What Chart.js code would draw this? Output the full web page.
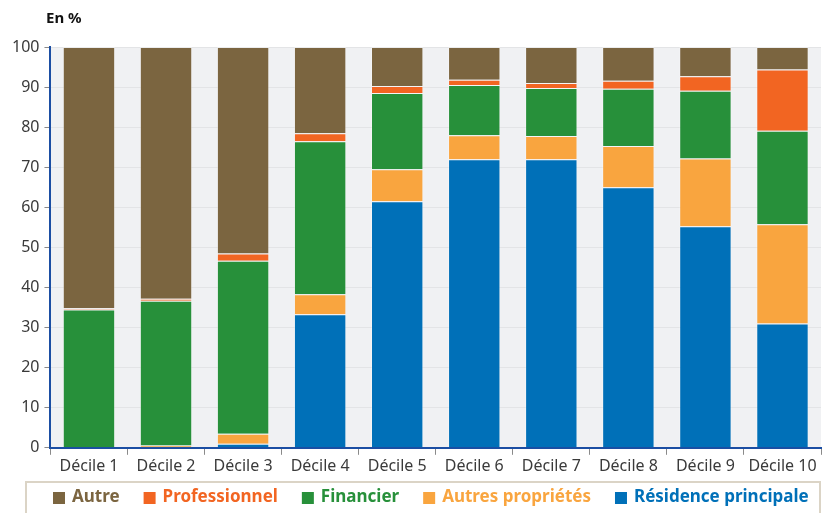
<!DOCTYPE html>
<html>
<head>
<meta charset="utf-8">
<script src="https://cdn.jsdelivr.net/npm/chart.js@4/dist/chart.umd.min.js"></script>
<style>
  html, body { margin: 0; padding: 0; background: #fff; }
  #wrap { width: 826px; height: 513px; }
</style>
</head>
<body>
<div id="wrap"><canvas id="chart"></canvas></div>
<script>
// Data (en %)
const categories = ['Décile 1', 'Décile 2', 'Décile 3', 'Décile 4', 'Décile 5',
    'Décile 6', 'Décile 7', 'Décile 8', 'Décile 9', 'Décile 10'];
const residence = [0, 0, 1, 33.3, 61.5, 72, 72, 65, 55.3, 31];
const autresProprietes = [0, 0.6, 2.5, 5, 8, 6, 5.8, 10.3, 16.9, 24.8];
const financier = [34.5, 36.1, 43.2, 38.2, 19, 12.5, 12, 14.3, 16.9, 23.3];
const professionnel = [0.3, 0.5, 1.8, 2, 1.8, 1.3, 1.2, 2, 3.6, 15.3];
const autre = [65.2, 62.8, 51.5, 21.5, 9.7, 8.2, 9, 8.4, 7.3, 5.6];
const yTicks = [0, 10, 20, 30, 40, 50, 60, 70, 80, 90, 100];

const colors = {
    residence: '#0070b8',
    autresProprietes: '#f9a53f',
    financier: '#27903a',
    professionnel: '#f26522',
    autre: '#7b6540',
    axis: '#1b4ea3',
    text: '#3a3a3a',
    plotBg: '#f0f1f3',
    grid: '#e3e4e6'
};

const FONT = "'Noto Sans', 'Open Sans', sans-serif";

function series(label, data, color) {
    return {
        label: label,
        data: data,
        backgroundColor: color,
        borderColor: 'rgba(255,255,255,0.3)',
        borderWidth: 1,
        barPercentage: 0.68,
        categoryPercentage: 1
    };
}

// plot background, title, framed legend (legend order reversed like the source)
const decorPlugin = {
    id: 'decor',
    beforeDraw(chart) {
        const { ctx, chartArea } = chart;
        ctx.save();
        ctx.fillStyle = colors.plotBg;
        ctx.fillRect(chartArea.left, chartArea.top, chartArea.right - chartArea.left, chartArea.bottom - chartArea.top);
        ctx.restore();
    },
    afterDraw(chart) {
        const { ctx } = chart;
        ctx.save();
        ctx.font = 'bold 15px ' + FONT;
        ctx.fillStyle = '#111';
        ctx.textBaseline = 'middle';
        ctx.fillText('En %', 46, 19);

        // legend frame
        const boxTop = 482;
        ctx.strokeStyle = '#dbd4c6';
        ctx.lineWidth = 2;
        ctx.strokeRect(26, boxTop, chart.width - 32, chart.height - boxTop + 4);

        // legend items
        const items = chart.data.datasets.slice().reverse();
        const sq = 12, gapText = 7, gapItem = 24;
        ctx.font = 'bold 17px ' + FONT;
        let x = 53;
        const cy = 498;
        items.forEach(ds => {
            ctx.fillStyle = ds.backgroundColor;
            ctx.fillRect(x, cy - sq / 2, sq, sq);
            ctx.fillText(ds.label, x + sq + gapText, cy - 1);
            x += sq + gapText + ctx.measureText(ds.label).width + gapItem;
        });
        ctx.restore();
    }
};

new Chart(document.getElementById('chart'), {
    type: 'bar',
    data: {
        labels: categories,
        datasets: [
            series('Résidence principale', residence, colors.residence),
            series('Autres propriétés', autresProprietes, colors.autresProprietes),
            series('Financier', financier, colors.financier),
            series('Professionnel', professionnel, colors.professionnel),
            series('Autre', autre, colors.autre)
        ]
    },
    options: {
        responsive: true,
        maintainAspectRatio: false,
        animation: false,
        layout: { padding: { top: 47, right: 5, left: 7, bottom: 35 } },
        plugins: {
            legend: { display: false },
            tooltip: { enabled: false }
        },
        scales: {
            x: {
                stacked: true,
                grid: { drawOnChartArea: false, drawTicks: true, tickLength: 7, color: '#8a8a8a' },
                border: { color: colors.axis, width: 2 },
                ticks: { color: colors.text, font: { family: FONT, size: 16 }, padding: 2 }
            },
            y: {
                stacked: true,
                min: 0,
                max: 100,
                afterBuildTicks(scale) {
                    scale.ticks = yTicks.map(v => ({ value: v }));
                },
                grid: { color: colors.grid, tickLength: 6, tickColor: '#8a8a8a' },
                border: { color: colors.axis, width: 2 },
                ticks: { color: colors.text, font: { family: FONT, size: 16 }, padding: 5 }
            }
        }
    },
    plugins: [decorPlugin]
});
</script>
</body>
</html>
